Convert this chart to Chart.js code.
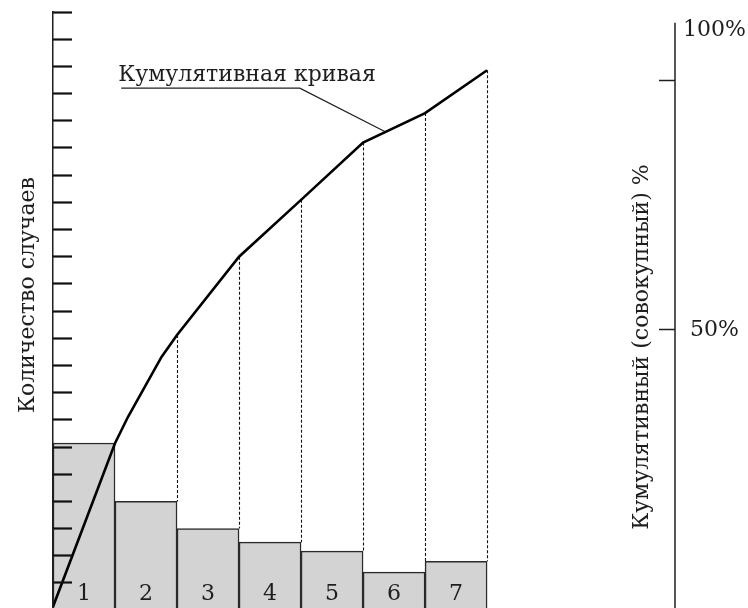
<!DOCTYPE html>
<html lang="ru">
<head>
<meta charset="utf-8">
<title>Кумулятивная кривая</title>
<script src="https://cdn.jsdelivr.net/npm/chart.js@4.4.1/dist/chart.umd.min.js"></script>
<style>
  html, body { margin: 0; padding: 0; background: #ffffff; overflow: hidden; }
  #wrap { width: 748px; height: 608px; }
</style>
</head>
<body>
<div id="wrap"><canvas id="pareto" width="748" height="608"></canvas></div>
<script>
    // categories and values
    const BAR_LABELS = ['1', '2', '3', '4', '5', '6', '7'];
    const BAR_CENTERS = [0.5, 1.5, 2.5, 3.5, 4.5, 5.5, 6.5];
    const CASE_COUNTS = [6.15, 4.0, 3.0, 2.5, 2.17, 1.4, 1.8];

    // cumulative curve (x in bar widths, y in percent)
    const CURVE_X = [0, 1, 1.21, 1.48, 1.75, 2, 3, 4, 5, 6, 7];
    const CURVE_PCT = [-5.5, 27.3, 32.6, 38.6, 44.6, 49.0, 64.7, 76.1, 87.6, 93.5, 102.1];

    // leader line from the label to the curve
    const LEADER_X = [1.1, 3.98, 5.35];
    const LEADER_Y = [98.5, 98.5, 89.8];
    const LEADER_TEXT = 'Кумулятивная кривая';

    // axes
    const COUNT_TICKS = [1, 2, 3, 4, 5, 6, 7, 8, 9, 10, 11, 12, 13, 14, 15, 16, 17, 18, 19, 20, 21, 22];
    const PCT_TICKS = [50, 100, 110.2];
    const PCT_LABELS = ['50%', '', '100%'];
    const PCT_MARKS = [true, true, false];
    const Y_MIN = 0.08, Y_MAX = 22;
    const Y2_MIN = -5.76, Y2_MAX = 113.78, Y2_LINE_TOP = 111.6;
    const X_MAX = 10.03;

    const LEFT_TITLE = 'Количество случаев';
    const RIGHT_TITLE = 'Кумулятивный (совокупный) %';

    const FONT = '"DejaVu Serif", "Liberation Serif", serif';
    const FONT_SIZE = 22;
    const INK = '#1e1e1e';

    function drawRotated(ctx, text, x, y) {
        ctx.save();
        ctx.translate(x, y);
        ctx.rotate(-Math.PI / 2);
        ctx.textAlign = 'center';
        ctx.textBaseline = 'alphabetic';
        ctx.fillText(text, 0, 0);
        ctx.restore();
    }

    const paretoExtras = {
        id: 'paretoExtras',
        beforeDatasetsDraw(chart) {
            // dashed drops from the curve to the bar tops
            const {ctx} = chart;
            const x = chart.scales.x, y = chart.scales.y, y2 = chart.scales.y2;
            ctx.save();
            ctx.setLineDash([3, 2]);
            ctx.lineWidth = 1.1;
            ctx.strokeStyle = '#111111';
            for (let i = 2; i <= CASE_COUNTS.length; i++) {
                const k = CURVE_X.indexOf(i);
                const px = Math.round(x.getPixelForValue(i)) + 0.5;
                ctx.beginPath();
                ctx.moveTo(px, y2.getPixelForValue(CURVE_PCT[k]));
                ctx.lineTo(px, y.getPixelForValue(CASE_COUNTS[i - 1]));
                ctx.stroke();
            }
            ctx.restore();
        },
        afterDatasetsDraw(chart) {
            const {ctx, chartArea} = chart;
            const x = chart.scales.x, y2 = chart.scales.y2;
            ctx.save();
            ctx.fillStyle = INK;
            ctx.font = FONT_SIZE + 'px ' + FONT;
            ctx.textAlign = 'center';
            ctx.textBaseline = 'alphabetic';
            BAR_LABELS.forEach((lbl, i) => {
                ctx.fillText(lbl, x.getPixelForValue(BAR_CENTERS[i]), chartArea.bottom - 8);
            });
            ctx.textAlign = 'left';
            ctx.fillText(LEADER_TEXT, x.getPixelForValue(LEADER_X[0]) - 3, y2.getPixelForValue(LEADER_Y[0]) - 7);
            ctx.restore();
        },
        afterDraw(chart) {
            const {ctx} = chart;
            const y2 = chart.scales.y2;
            ctx.save();
            // right axis line starts a little below the top of the plot
            ctx.strokeStyle = INK;
            ctx.lineWidth = 1.5;
            ctx.beginPath();
            ctx.moveTo(y2.left, y2.getPixelForValue(Y2_LINE_TOP));
            ctx.lineTo(y2.left, y2.bottom);
            ctx.stroke();
            ctx.fillStyle = INK;
            ctx.font = FONT_SIZE + 'px ' + FONT;
            drawRotated(ctx, LEFT_TITLE, 34, 295);
            drawRotated(ctx, RIGHT_TITLE, 648, 347);
            ctx.restore();
        }
    };

    const ctx = document.getElementById('pareto').getContext('2d');
    new Chart(ctx, {
        type: 'bar',
        data: {
            datasets: [
                {
                    type: 'line',
                    label: 'curve',
                    data: CURVE_X.map((v, i) => ({x: v, y: CURVE_PCT[i]})),
                    xAxisID: 'x',
                    yAxisID: 'y2',
                    borderColor: '#000000',
                    borderWidth: 2.6,
                    pointRadius: 0,
                    tension: 0,
                    order: 0
                },
                {
                    type: 'line',
                    label: 'leader',
                    data: LEADER_X.map((v, i) => ({x: v, y: LEADER_Y[i]})),
                    xAxisID: 'x',
                    yAxisID: 'y2',
                    borderColor: INK,
                    borderWidth: 1.2,
                    pointRadius: 0,
                    tension: 0,
                    order: 0
                },
                {
                    type: 'bar',
                    label: 'cases',
                    data: BAR_CENTERS.map((v, i) => ({x: v, y: CASE_COUNTS[i]})),
                    xAxisID: 'x',
                    yAxisID: 'y',
                    backgroundColor: '#d3d3d3',
                    borderColor: '#2a2a2a',
                    borderWidth: 1.5,
                    barPercentage: 1,
                    categoryPercentage: 1,
                    order: 1
                }
            ]
        },
        options: {
            responsive: false,
            animation: false,
            devicePixelRatio: 1,
            layout: { padding: { top: 12, left: 0, right: 0, bottom: 0 } },
            plugins: { legend: { display: false }, tooltip: { enabled: false } },
            scales: {
                x: { type: 'linear', min: 0, max: X_MAX, offset: false, display: false },
                y: {
                    position: 'left',
                    min: Y_MIN,
                    max: Y_MAX,
                    afterBuildTicks: s => { s.ticks = COUNT_TICKS.map(v => ({value: v})); },
                    afterFit: s => { s.width = 53; s.paddingTop = 0; s.paddingBottom = 0; },
                    ticks: { display: false, z: 1 },
                    grid: { z: 1, drawOnChartArea: false, tickLength: -19, tickWidth: 2.2, tickColor: '#111111' },
                    border: { z: 1, color: INK, width: 1.5 }
                },
                y2: {
                    position: 'right',
                    min: Y2_MIN,
                    max: Y2_MAX,
                    afterBuildTicks: s => { s.ticks = PCT_TICKS.map(v => ({value: v})); },
                    afterFit: s => { s.width = 73; s.paddingTop = 0; s.paddingBottom = 0; },
                    ticks: {
                        z: 1,
                        autoSkip: false,
                        crossAlign: 'center',
                        padding: 24,
                        color: INK,
                        font: { family: FONT, size: FONT_SIZE },
                        callback: (v, i) => PCT_LABELS[i]
                    },
                    grid: {
                        z: 1,
                        drawOnChartArea: false,
                        tickLength: -16,
                        tickWidth: 1.5,
                        tickColor: c => PCT_MARKS[c.index] ? INK : 'rgba(0,0,0,0)'
                    },
                    border: { display: false }
                }
            }
        },
        plugins: [paretoExtras]
    });
</script>
</body>
</html>
